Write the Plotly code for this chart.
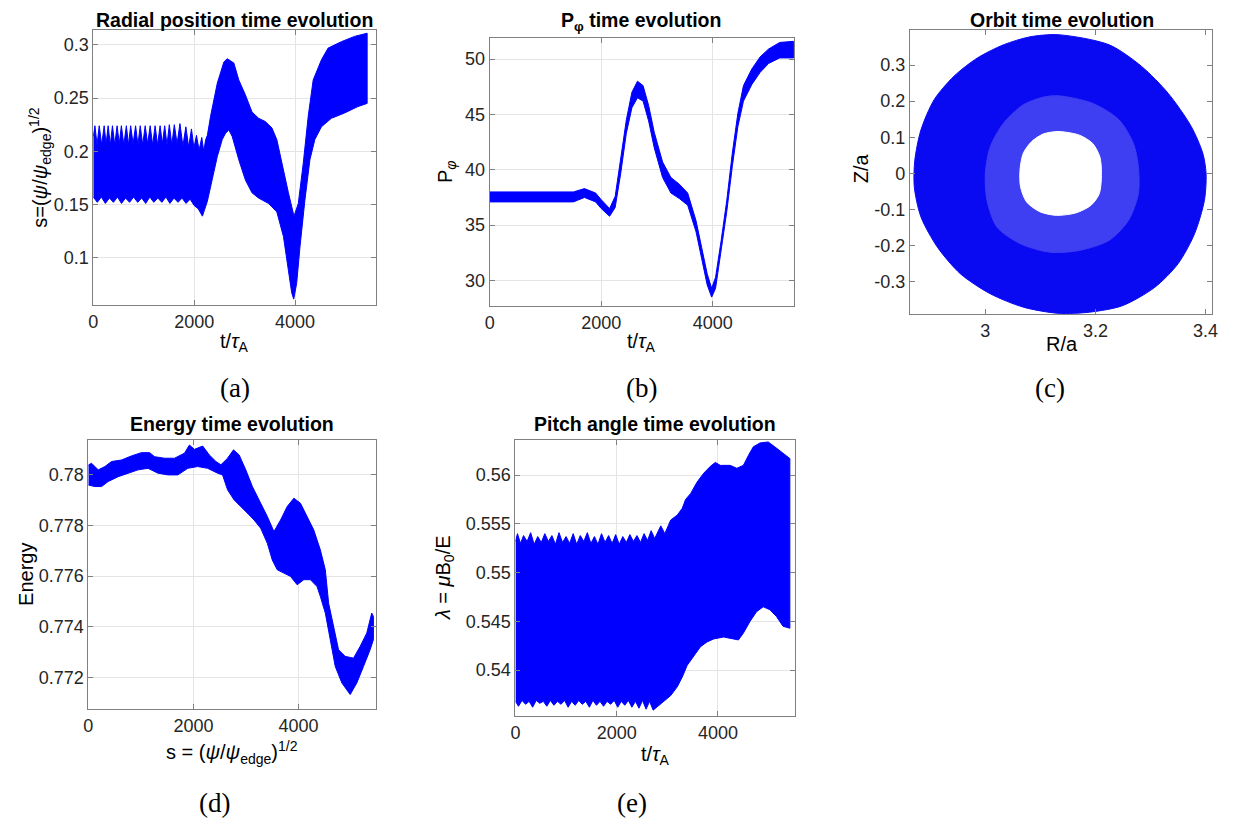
import plotly.graph_objects as go

W, H = 1234, 821
PAGE = 8  # default body margin of the html page
FW, FH = W - PAGE, H - PAGE

# (a) radial position s vs t : upper / lower edge of the oscillating band
a_t_up = [0, 33, 75, 118, 167, 216, 255, 295, 338, 380,
          426, 472, 515, 557, 606, 656, 698, 741, 790, 839,
          885, 931, 980, 1029, 1078, 1128, 1177, 1226, 1275, 1325,
          1370, 1416, 1462, 1508, 1557, 1607, 1662, 1718, 1777, 1836,
          1891, 1947, 1996, 2046, 2098, 2151, 2190, 2229, 2262, 2330,
          2459, 2590, 2656, 2787, 2885, 3016, 3147, 3278, 3410, 3541,
          3639, 3737, 3869, 3980, 4065, 4164, 4262, 4360, 4524, 4656,
          4918, 5180, 5430]
a_s_up = [0.214, 0.224, 0.206, 0.224, 0.206, 0.224, 0.207, 0.224, 0.206, 0.224,
          0.206, 0.224, 0.207, 0.224, 0.206, 0.224, 0.206, 0.224, 0.207, 0.224,
          0.206, 0.224, 0.206, 0.224, 0.207, 0.224, 0.206, 0.224, 0.206, 0.224,
          0.207, 0.224, 0.206, 0.225, 0.206, 0.225, 0.207, 0.226, 0.205, 0.223,
          0.204, 0.221, 0.203, 0.215, 0.201, 0.213, 0.200, 0.211, 0.215, 0.234,
          0.264, 0.284, 0.287, 0.283, 0.267, 0.253, 0.237, 0.231, 0.228, 0.222,
          0.211, 0.189, 0.161, 0.139, 0.151, 0.189, 0.233, 0.267, 0.286, 0.297,
          0.303, 0.308, 0.311]
a_t_lo = [0, 80, 160, 240, 320, 400, 480, 560, 640, 720,
          800, 880, 960, 1040, 1120, 1200, 1280, 1360, 1440, 1520,
          1600, 1680, 1760, 1840, 1920, 2000, 2080, 2164, 2262, 2360,
          2459, 2557, 2623, 2688, 2754, 2885, 3016, 3147, 3278, 3475,
          3639, 3770, 3869, 3934, 3974, 4033, 4098, 4196, 4295, 4393,
          4524, 4721, 4983, 5246, 5430]
a_s_lo = [0.157, 0.152, 0.157, 0.151, 0.156, 0.152, 0.157, 0.151, 0.156, 0.152,
          0.157, 0.152, 0.156, 0.151, 0.157, 0.152, 0.156, 0.152, 0.157, 0.151,
          0.156, 0.152, 0.156, 0.151, 0.155, 0.149, 0.146, 0.139, 0.153, 0.173,
          0.195, 0.211, 0.217, 0.220, 0.214, 0.192, 0.173, 0.161, 0.156, 0.151,
          0.143, 0.120, 0.088, 0.067, 0.061, 0.076, 0.110, 0.154, 0.192, 0.211,
          0.223, 0.231, 0.236, 0.242, 0.245]

# (b) P_phi vs t
b_t = [0, 500, 1000, 1500, 1700, 1900, 2000, 2150, 2250, 2350, 2450, 2550, 2650, 2750, 2850, 2950, 3100, 3250,
       3400, 3550, 3700, 3800, 3900, 3980, 4050, 4150, 4250, 4350, 4450, 4550, 4700, 4850, 5000, 5200, 5450]
b_up = [38.0, 38.0, 38.0, 38.0, 38.3, 37.9, 37.3, 36.5, 37.6, 40.9, 44.5, 47.0, 48.0, 47.6, 45.8, 43.4, 40.7, 39.3,
        38.7, 37.9, 35.4, 33.0, 30.6, 29.3, 30.3, 33.6, 37.2, 41.5, 45.1, 47.6, 49.1, 50.2, 50.9, 51.5, 51.6]
b_lo = [37.1, 37.1, 37.1, 37.1, 37.5, 37.1, 36.5, 35.8, 36.6, 39.7, 43.3, 45.6, 46.5, 46.2, 44.4, 42.0, 39.3, 37.9,
        37.4, 36.8, 34.4, 32.0, 29.6, 28.5, 29.3, 32.6, 36.2, 40.3, 43.9, 46.2, 47.7, 48.8, 49.6, 50.1, 50.1]

# (c) orbit: outline of the filled ring, of the sparse inner mesh and of the hole
c_out_r = [3.132, 3.225, 3.284, 3.332, 3.374, 3.395, 3.401, 3.398, 3.380, 3.350, 3.308, 3.249, 3.189, 3.132, 3.069,
           3.009, 2.955, 2.913, 2.883, 2.871, 2.872, 2.883, 2.907, 2.943, 2.985, 3.033, 3.081]
c_out_z = [0.384, 0.356, 0.296, 0.222, 0.130, 0.056, 0.0, -0.074, -0.167, -0.250, -0.315, -0.366, -0.384, -0.387,
           -0.370, -0.333, -0.278, -0.204, -0.120, -0.037, 0.037, 0.120, 0.204, 0.269, 0.319, 0.356, 0.378]
c_mesh_r = [3.132, 3.195, 3.243, 3.269, 3.278, 3.278, 3.260, 3.225, 3.171, 3.117, 3.063, 3.021, 3.003, 3.000, 3.009,
            3.033, 3.069, 3.105]
c_mesh_z = [0.215, 0.194, 0.148, 0.083, 0.019, -0.056, -0.130, -0.185, -0.213, -0.218, -0.194, -0.148, -0.074, 0.0,
            0.074, 0.139, 0.190, 0.211]
c_hole_r = [3.132, 3.171, 3.195, 3.208, 3.211, 3.207, 3.192, 3.165, 3.129, 3.099, 3.075, 3.064, 3.063, 3.069, 3.084,
            3.105]
c_hole_z = [0.116, 0.106, 0.083, 0.046, 0.0, -0.056, -0.088, -0.109, -0.116, -0.106, -0.079, -0.037, 0.009, 0.056,
            0.088, 0.109]

# (d) energy vs t
d_t_up = [0, 60, 189, 315, 442, 631, 820, 1009, 1167, 1262,
          1451, 1640, 1830, 1924, 2019, 2177, 2303, 2429, 2524, 2650,
          2763, 2871, 2997, 3123, 3281, 3407, 3533, 3659, 3785, 3912,
          4038, 4164, 4290, 4416, 4511, 4574, 4669, 4763, 4889, 5047,
          5173, 5300, 5394, 5426]
d_up = [0.78039, 0.78046, 0.7802, 0.78033, 0.78053, 0.78059, 0.78075, 0.78088, 0.78088, 0.78072,
        0.78066, 0.78066, 0.78086, 0.78118, 0.78101, 0.78114, 0.78079, 0.78053, 0.7804, 0.78066,
        0.78099, 0.78079, 0.7802, 0.77954, 0.77888, 0.77836, 0.77776, 0.77822, 0.77875, 0.77908,
        0.77888, 0.77836, 0.77783, 0.77704, 0.77625, 0.77493, 0.77401, 0.77309, 0.77283, 0.77276,
        0.77322, 0.77375, 0.77454, 0.77441]
d_t_lo = [0, 126, 252, 379, 568, 757, 946, 1136, 1325, 1514,
          1703, 1893, 2082, 2271, 2460, 2555, 2650, 2776, 2902, 3028,
          3154, 3281, 3407, 3501, 3596, 3722, 3848, 3975, 4101, 4227,
          4353, 4416, 4511, 4605, 4700, 4826, 4984, 5110, 5237, 5363,
          5426]
d_lo = [0.7796, 0.77954, 0.77954, 0.77974, 0.77993, 0.78007, 0.7802, 0.78026, 0.78007, 0.78,
        0.78, 0.78026, 0.78033, 0.78026, 0.78007, 0.78, 0.77941, 0.77901, 0.77875, 0.77849,
        0.77822, 0.77789, 0.7773, 0.77664, 0.77625, 0.77612, 0.77599, 0.77566, 0.77586, 0.77586,
        0.77559, 0.7752, 0.77454, 0.77349, 0.77243, 0.77178, 0.77132, 0.77178, 0.77243, 0.77309,
        0.77349]

# (e) pitch angle vs t
e_t_up = [0, 40, 100, 160, 230, 300, 370, 440, 510, 580,
          650, 720, 790, 860, 930, 1000, 1070, 1140, 1210, 1280,
          1350, 1420, 1490, 1560, 1630, 1700, 1770, 1840, 1910, 1980,
          2050, 2120, 2190, 2260, 2330, 2400, 2470, 2540, 2610, 2680,
          2750, 2871, 2950, 3067, 3197, 3295, 3360, 3458, 3589, 3719,
          3850, 3948, 4046, 4241, 4372, 4502, 4600, 4698, 4829, 4992,
          5122, 5253, 5351, 5420]
e_up = [0.5532, 0.5540, 0.5530, 0.5538, 0.5532, 0.5541, 0.5529, 0.5537, 0.5531, 0.5540,
        0.5532, 0.5538, 0.5529, 0.5541, 0.5531, 0.5537, 0.5530, 0.5540, 0.5529, 0.5538,
        0.5532, 0.5541, 0.5530, 0.5537, 0.5529, 0.5540, 0.5531, 0.5538, 0.5530, 0.5539,
        0.5529, 0.5537, 0.5531, 0.5539, 0.5532, 0.5538, 0.5531, 0.5540, 0.5533, 0.5543,
        0.5535, 0.5548, 0.5540, 0.5554, 0.5559, 0.5566, 0.5575, 0.5581, 0.5593, 0.5602,
        0.5609, 0.5613, 0.5610, 0.5610, 0.5607, 0.5610, 0.5620, 0.5629, 0.5633, 0.5634,
        0.5629, 0.5624, 0.5620, 0.5617]
e_t_lo = [0, 60, 130, 200, 270, 340, 410, 480, 550, 620,
          690, 760, 830, 900, 970, 1040, 1110, 1180, 1250, 1320,
          1390, 1460, 1530, 1600, 1670, 1740, 1810, 1880, 1950, 2020,
          2090, 2160, 2230, 2300, 2370, 2440, 2510, 2580, 2650, 2720,
          2871, 3067, 3197, 3295, 3393, 3524, 3654, 3785, 3915, 4111,
          4307, 4404, 4502, 4633, 4763, 4894, 5024, 5155, 5285, 5420]
e_lo = [0.5368, 0.5363, 0.5369, 0.5365, 0.5368, 0.5362, 0.5369, 0.5366, 0.5368, 0.5363,
        0.5369, 0.5364, 0.5368, 0.5365, 0.5369, 0.5362, 0.5368, 0.5364, 0.5369, 0.5365,
        0.5368, 0.5362, 0.5369, 0.5364, 0.5368, 0.5363, 0.5368, 0.5365, 0.5369, 0.5362,
        0.5368, 0.5364, 0.5369, 0.5362, 0.5368, 0.5361, 0.5369, 0.5360, 0.5368, 0.5359,
        0.5366, 0.5374, 0.5383, 0.5393, 0.5405, 0.5415, 0.5424, 0.5429, 0.5432, 0.5434,
        0.5432, 0.5431, 0.5438, 0.5450, 0.5460, 0.5465, 0.5462, 0.5455, 0.5445, 0.5443]

# tick labels
t_ticks = [0, 2000, 4000]
a_yticks = [0.1, 0.15, 0.2, 0.25, 0.3]
b_yticks = [30, 35, 40, 45, 50]
c_xticks = [3, 3.2, 3.4]
c_yticks = [-0.3, -0.2, -0.1, 0, 0.1, 0.2, 0.3]
d_yticks = [0.772, 0.774, 0.776, 0.778, 0.78]
e_yticks = [0.54, 0.545, 0.55, 0.555, 0.56]

BLUE = 'rgb(0,0,255)'
SANS = 'Liberation Sans, Arial, sans-serif'
SERIF = 'Liberation Serif, serif'
TICK = dict(family=SANS, size=18, color='#262626')


def px(x):
    return (x - PAGE) / FW


def py(y):
    return 1 - (y - PAGE) / FH


def axis(x0, x1, rng, vals, grid=True, vertical=False):
    dom = [py(x1), py(x0)] if vertical else [px(x0), px(x1)]
    return dict(domain=dom, range=rng, tickvals=vals, ticktext=['%g' % v for v in vals],
                showgrid=grid, gridcolor='#e4e4e4', gridwidth=1, zeroline=False,
                showline=True, linecolor='#808080', linewidth=1, mirror='ticks',
                ticks='inside', ticklen=5, tickcolor='#808080', tickfont=TICK, fixedrange=True)


def band(t_up, v_up, t_lo, v_lo, xa, ya):
    return go.Scatter(x=list(t_up) + list(t_lo)[::-1], y=list(v_up) + list(v_lo)[::-1],
                      fill='toself', fillcolor=BLUE, mode='lines',
                      line=dict(color=BLUE, width=1), xaxis=xa, yaxis=ya, hoverinfo='skip')


fig = go.Figure()
fig.add_trace(band(a_t_up, a_s_up, a_t_lo, a_s_lo, 'x', 'y'))
fig.add_trace(band(b_t, b_up, b_t, b_lo, 'x2', 'y2'))
for rr, zz, col in [(c_out_r, c_out_z, 'rgb(10,10,242)'),
                    (c_mesh_r, c_mesh_z, 'rgb(62,62,242)'),
                    (c_hole_r, c_hole_z, 'white')]:
    fig.add_trace(go.Scatter(x=rr + rr[:1], y=zz + zz[:1], fill='toself', fillcolor=col, mode='lines',
                             line=dict(color=col, width=1, shape='spline', smoothing=0.8),
                             xaxis='x3', yaxis='y3', hoverinfo='skip'))
fig.add_trace(band(d_t_up, d_up, d_t_lo, d_lo, 'x4', 'y4'))
fig.add_trace(band(e_t_up, e_up, e_t_lo, e_lo, 'x5', 'y5'))

fig.update_layout(
    width=FW, height=FH,
    margin=dict(l=0, r=0, t=0, b=0),
    paper_bgcolor='white', plot_bgcolor='white',
    showlegend=False,
    xaxis=dict(axis(89, 374, [0, 5600], t_ticks), anchor='y'),
    yaxis=dict(axis(30, 305, [0.0555, 0.314], a_yticks, vertical=True), anchor='x'),
    xaxis2=dict(axis(489, 796, [0, 5455], t_ticks), anchor='y2'),
    yaxis2=dict(axis(38, 306, [27.7, 51.9], b_yticks, vertical=True), anchor='x2'),
    xaxis3=dict(axis(913, 1218, [2.863, 3.412], c_xticks, grid=False), anchor='y3'),
    yaxis3=dict(axis(30, 314, [-0.389, 0.397], c_yticks, grid=False, vertical=True), anchor='x3'),
    xaxis4=dict(axis(84, 374, [0, 5470], t_ticks), anchor='y4'),
    yaxis4=dict(axis(440, 709, [0.77075, 0.78138], d_yticks, vertical=True), anchor='x4'),
    xaxis5=dict(axis(515, 797, [0, 5520], t_ticks), anchor='y5'),
    yaxis5=dict(axis(440, 716, [0.5353, 0.5636], e_yticks, vertical=True), anchor='x5'),
)

notes = [
    # titles
    ('<b>Radial position time evolution</b>', 232, 20, 0, 19.5, SANS),
    ('<b>P<sub>φ</sub> time evolution</b>', 642, 21, 0, 19.5, SANS),
    ('<b>Orbit time evolution</b>', 1066, 20, 0, 19.5, SANS),
    ('<b>Energy time evolution</b>', 229, 424, 0, 19.5, SANS),
    ('<b>Pitch angle time evolution</b>', 656, 424, 0, 19.5, SANS),
    # axis labels
    ('t/<i>τ</i><sub>A</sub>', 232, 342, 0, 20, SANS),
    ('s=(<i>ψ</i>/<i>ψ</i><sub>edge</sub>)<sup>1/2</sup>', 35, 167, -90, 20, SANS),
    ('t/<i>τ</i><sub>A</sub>', 642, 342, 0, 20, SANS),
    ('P<sub><i>φ</i></sub>', 446, 172, -90, 20, SANS),
    ('R/a', 1067, 344, 0, 20, SANS),
    ('Z/a', 864, 168, -90, 20, SANS),
    ('s = (<i>ψ</i>/<i>ψ</i><sub>edge</sub>)<sup>1/2</sup>', 229, 752, 0, 20, SANS),
    ('Energy', 21, 574, -90, 20, SANS),
    ('t/<i>τ</i><sub>A</sub>', 656, 755, 0, 20, SANS),
    ('<i>λ</i> = <i>μ</i>B<sub>0</sub>/E', 443, 578, -90, 20, SANS),
    # panel captions
    ('(a)', 232, 388, 0, 27, SERIF),
    ('(b)', 642, 388, 0, 27, SERIF),
    ('(c)', 1054, 388, 0, 27, SERIF),
    ('(d)', 211, 803, 0, 27, SERIF),
    ('(e)', 633, 803, 0, 27, SERIF),
]
for text, x, y, ang, size, fam in notes:
    fig.add_annotation(text=text, x=px(x), y=py(y), xref='paper', yref='paper',
                       xanchor='center', yanchor='middle', textangle=ang, showarrow=False,
                       font=dict(family=fam, size=size, color='black'))

fig.write_html("out.html")
